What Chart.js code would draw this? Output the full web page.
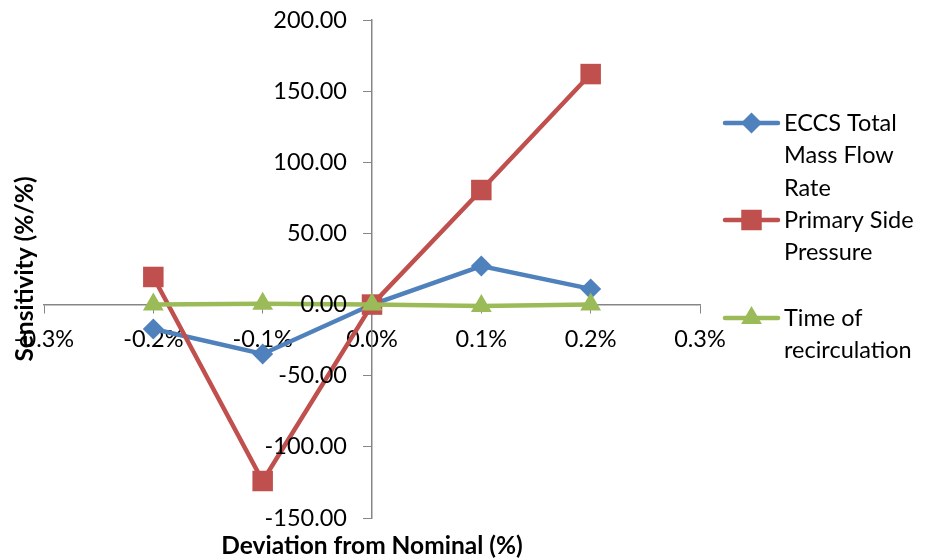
<!DOCTYPE html>
<html>
<head>
<meta charset="utf-8">
<script src="https://cdn.jsdelivr.net/npm/chart.js@4/dist/chart.umd.min.js"></script>
<style>
  html, body { margin: 0; padding: 0; background: #fff; }
  #wrap { width: 925px; height: 560px; position: relative; }
</style>
</head>
<body>
<div id="wrap"><canvas id="chart" width="925" height="560"></canvas></div>
<script>
// Deviation from nominal, in percent
const deviations = [-0.2, -0.1, 0.0, 0.1, 0.2];

// Sensitivity (%/%) of each parameter
const eccsMassFlow   = [-17.2, -34.7, 0.0, 27.1, 11.0];
const primaryPress   = [19.4, -124.0, 0.0, 80.5, 162.0];
const recircTime     = [0.0, 0.5, 0.0, -1.0, 0.0];

// Legend labels, broken into lines
const eccsName    = ["ECCS Total", "Mass Flow", "Rate"];
const pressName   = ["Primary Side", "Pressure"];
const recircName  = ["Time of", "recirculation"];

const xTitle = "Deviation from Nominal (%)";
const yTitle = "Sensitivity (%/%)";

const FONT = "Lato, 'Open Sans', sans-serif";
const AXIS_GRAY = "#868686";
const TICK_SIZE = 23.5;

function pts(vals) {
  return deviations.map((x, i) => ({ x: x, y: vals[i] }));
}

// Value labels of the vertical axis, set to the left of the axis line
const yTickLabels = {
  id: 'yTickLabels',
  afterDraw(chart) {
    const { ctx } = chart;
    const ys = chart.scales.y;
    const axisX = chart.scales.x.getPixelForValue(0);
    ctx.save();
    ctx.fillStyle = '#000';
    ctx.font = TICK_SIZE + "px " + FONT;
    ctx.textAlign = 'right';
    ctx.textBaseline = 'middle';
    ys.ticks.forEach(t => {
      ctx.fillText(t.value.toFixed(2), axisX - 25, ys.getPixelForValue(t.value));
    });
    ctx.restore();
  }
};

// Axis titles drawn around the plot area
const axisTitles = {
  id: 'axisTitles',
  afterDraw(chart) {
    const { ctx, chartArea } = chart;
    ctx.save();
    ctx.fillStyle = '#000';
    ctx.font = "bold 24.5px " + FONT;
    ctx.textAlign = 'center';
    ctx.textBaseline = 'middle';
    ctx.fillText(xTitle, (chartArea.left + chartArea.right) / 2, 546);
    ctx.translate(25, (chartArea.top + chartArea.bottom) / 2);
    ctx.rotate(-Math.PI / 2);
    ctx.fillText(yTitle, 0, 0);
    ctx.restore();
  }
};

// Legend on the right with multi-line entries
const sideLegend = {
  id: 'sideLegend',
  afterDraw(chart) {
    const { ctx } = chart;
    const lineH = 32.5;
    const starts = [123, 220, 318];
    ctx.save();
    ctx.font = TICK_SIZE + "px " + FONT;
    ctx.textAlign = 'left';
    ctx.textBaseline = 'middle';
    chart.data.datasets.forEach((ds, i) => {
      const y = starts[i];
      ctx.strokeStyle = ds.borderColor;
      ctx.lineWidth = ds.borderWidth;
      ctx.lineCap = 'round';
      ctx.beginPath();
      ctx.moveTo(725, y);
      ctx.lineTo(778, y);
      ctx.stroke();
      ctx.fillStyle = ds.pointBackgroundColor;
      Chart.helpers.drawPoint(ctx, {
        pointStyle: ds.pointStyle,
        radius: ds.pointRadius,
        borderWidth: 0
      }, 751.5, y);
      ctx.fillStyle = '#000';
      ds.legendLines.forEach((t, k) => ctx.fillText(t, 784, y + k * lineH));
    });
    ctx.restore();
  }
};

const mk = (label, lines, data, color, style, radius, order) => ({
  label: label,
  legendLines: lines,
  data: pts(data),
  borderColor: color,
  backgroundColor: color,
  pointBackgroundColor: color,
  pointBorderColor: color,
  pointBorderWidth: 0,
  borderWidth: 4.5,
  pointStyle: style,
  pointRadius: radius,
  pointHoverRadius: radius,
  tension: 0,
  order: order
});

new Chart(document.getElementById('chart'), {
  type: 'line',
  data: {
    datasets: [
      mk(eccsName.join(' '), eccsName, eccsMassFlow, '#4F81BD', 'rectRot', 10.5, 3),
      mk(pressName.join(' '), pressName, primaryPress, '#C0504D', 'rect', 14.5, 2),
      mk(recircName.join(' '), recircName, recircTime, '#9BBB59', 'triangle', 12, 1)
    ]
  },
  options: {
    responsive: false,
    animation: false,
    events: [],
    layout: { padding: { left: 44, right: 225, top: 20, bottom: 42 } },
    plugins: {
      legend: { display: false },
      tooltip: { enabled: false },
      title: { display: false }
    },
    scales: {
      x: {
        type: 'linear',
        position: { y: 0 },
        min: -0.3,
        max: 0.3,
        ticks: {
          stepSize: 0.1,
          padding: 13,
          color: '#000',
          font: { family: FONT, size: TICK_SIZE },
          maxRotation: 0,
          callback: v => (Math.abs(v) < 1e-9 ? 0 : v).toFixed(1) + '%'
        },
        grid: { display: true, drawOnChartArea: false, drawTicks: true, tickLength: 8, color: AXIS_GRAY },
        border: { display: true, color: AXIS_GRAY, width: 1.5 }
      },
      y: {
        type: 'linear',
        position: { x: 0 },
        min: -150,
        max: 200,
        ticks: {
          stepSize: 50,
          display: false
        },
        grid: { display: true, drawOnChartArea: false, drawTicks: true, tickLength: 8, color: AXIS_GRAY },
        border: { display: true, color: AXIS_GRAY, width: 1.5 }
      }
    }
  },
  plugins: [yTickLabels, axisTitles, sideLegend]
});
</script>
</body>
</html>
